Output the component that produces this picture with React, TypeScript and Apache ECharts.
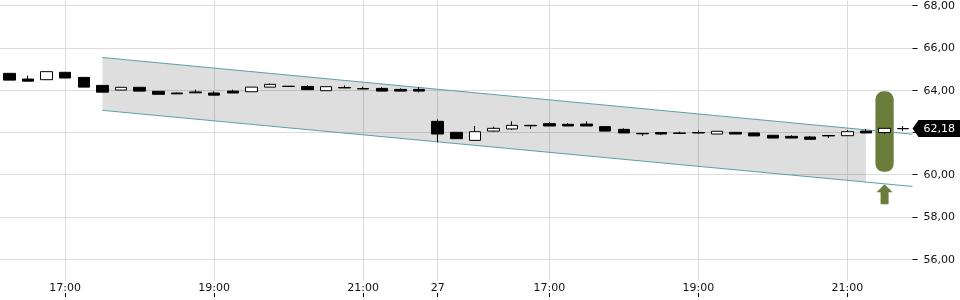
import React, { useEffect, useRef } from "react";
import * as echarts from "echarts";

const categories = [
  "26 16:15", "26 16:30", "26 16:45", "26 17:00", "26 17:15", "26 17:30", "26 17:45", "26 18:00",
  "26 18:15", "26 18:30", "26 18:45", "26 19:00", "26 19:15", "26 19:30", "26 19:45", "26 20:00",
  "26 20:15", "26 20:30", "26 20:45", "26 21:00", "26 21:15", "26 21:30", "26 21:45",
  "27 15:30", "27 15:45", "27 16:00", "27 16:15", "27 16:30", "27 16:45", "27 17:00", "27 17:15",
  "27 17:30", "27 17:45", "27 18:00", "27 18:15", "27 18:30", "27 18:45", "27 19:00", "27 19:15",
  "27 19:30", "27 19:45", "27 20:00", "27 20:15", "27 20:30", "27 20:45", "27 21:00", "27 21:15",
  "27 21:30", "27 21:45",
];

const opens = [
  64.79, 64.52, 64.49, 64.84, 64.6, 64.22, 64.0, 64.13, 63.94, 63.86, 63.91, 63.86, 63.95, 63.92, 64.14, 64.18,
  64.17, 63.97, 64.12, 64.07, 64.08, 64.03, 64.03,
  62.52, 62.0, 61.62, 62.06, 62.16, 62.33, 62.41, 62.38, 62.39, 62.27, 62.14, 61.95, 61.99, 61.97, 61.99, 61.92,
  62.0, 61.97, 61.86, 61.81, 61.78, 61.85, 61.84, 62.06, 61.99, 62.17,
];
const closes = [
  64.47, 64.42, 64.87, 64.57, 64.14, 63.9, 64.13, 63.95, 63.8, 63.82, 63.87, 63.76, 63.86, 64.14, 64.27, 64.17,
  64.02, 64.16, 64.1, 64.05, 63.95, 63.95, 63.95,
  61.92, 61.7, 62.03, 62.19, 62.33, 62.31, 62.3, 62.3, 62.3, 62.06, 61.97, 61.93, 61.92, 61.95, 61.97, 62.05,
  61.92, 61.83, 61.73, 61.73, 61.67, 61.83, 62.03, 61.97, 62.19, 62.18,
];
const lows = [
  64.47, 64.42, 64.49, 64.57, 64.14, 63.9, 64.0, 63.95, 63.8, 63.81, 63.86, 63.76, 63.86, 63.92, 64.14, 64.17,
  64.02, 63.97, 64.1, 64.05, 63.95, 63.95, 63.89,
  61.53, 61.7, 61.62, 62.03, 62.11, 62.16, 62.3, 62.3, 62.3, 62.06, 61.97, 61.83, 61.87, 61.92, 61.94, 61.92,
  61.92, 61.83, 61.73, 61.73, 61.67, 61.73, 61.84, 61.97, 61.92, 62.06,
];
const highs = [
  64.79, 64.68, 64.87, 64.84, 64.6, 64.22, 64.13, 64.13, 63.94, 63.88, 64.02, 63.94, 64.02, 64.14, 64.31, 64.18,
  64.24, 64.16, 64.22, 64.16, 64.13, 64.08, 64.13,
  62.61, 62.0, 62.3, 62.27, 62.52, 62.33, 62.49, 62.44, 62.52, 62.27, 62.19, 61.95, 61.99, 62.03, 62.09, 62.05,
  62.0, 61.97, 61.86, 61.86, 61.83, 61.85, 62.11, 62.16, 62.19, 62.3,
];

// trend channel (x in category-index units)
const channelX = [5, 48.5];
const channelUpper = [65.54, 61.91];
const channelLower = [63.04, 59.44];
const shadeRange = [5, 46];

// forecast marker
const forecastIndex = 47;
const forecastRange = [60.13, 63.94];
const arrowTip = 59.54;

// axis ticks (62,00 is hidden behind the last-price tag)
const yTicks = [56, 58, 60, 62, 64, 66, 68];
const yTickLabels = [56, 58, 60, 64, 66, 68];
const xTickCats = ["26 17:00", "26 19:00", "26 21:00", "27 15:30", "27 17:00", "27 19:00", "27 21:00"];
const xTickLabels = ["17:00", "19:00", "21:00", "27", "17:00", "19:00", "21:00"];

const FONT = "DejaVu Sans";
const GREEN = "#6a7d3a";
const TEAL = "#5d9fa5";
const fmt = (v: number) => v.toFixed(2).replace(".", ",");

export default function App() {
  const ref = useRef<HTMLDivElement>(null);
  useEffect(() => {
    const chart = echarts.init(ref.current!, null, { renderer: "svg" });
    const isTick = (_i: number, v: string) => xTickCats.indexOf(v) >= 0;
    const candleData = categories.map((_, i) => [opens[i], closes[i], lows[i], highs[i]]);
    const lerp = (x: number, ys: number[]) =>
      ys[0] + ((ys[1] - ys[0]) * (x - channelX[0])) / (channelX[1] - channelX[0]);
    const lastPrice = closes[closes.length - 1];

    chart.setOption({
      animation: false,
      grid: { left: 0, right: 47.5, top: 0, bottom: 3, containLabel: false },
      xAxis: [
        {
          type: "category",
          data: categories,
          boundaryGap: true,
          position: "bottom",
          axisLine: { show: false },
          axisTick: {
            show: true,
            inside: true,
            length: 4,
            alignWithLabel: true,
            interval: isTick,
            lineStyle: { color: "#000" },
          },
          axisLabel: {
            inside: true,
            interval: isTick,
            margin: 4,
            formatter: (v: string) => xTickLabels[xTickCats.indexOf(v)],
            color: "#111",
            fontSize: 11,
            fontFamily: FONT,
            backgroundColor: "#fff",
            padding: [1, 2, 0, 2],
          },
          splitLine: {
            show: true,
            interval: isTick,
            alignWithLabel: true,
            lineStyle: { color: "#dcdcdc", width: 1 },
          },
        },
        {
          type: "value",
          min: -0.5,
          max: 48.5,
          show: false,
          axisLine: { show: false },
          axisTick: { show: false },
          axisLabel: { show: false },
          splitLine: { show: false },
        },
      ],
      yAxis: {
        type: "value",
        position: "right",
        min: 54.21,
        max: 68.24,
        axisLine: { show: false, onZero: false },
        axisTick: { show: true, length: 5, customValues: yTicks, lineStyle: { color: "#111" } },
        axisLabel: {
          customValues: yTickLabels,
          margin: 11,
          formatter: (v: number) => fmt(v),
          color: "#111",
          fontSize: 11,
          fontFamily: FONT,
        },
        splitLine: { show: true, lineStyle: { color: "#dcdcdc", width: 1 } },
      },
      series: [
        {
          type: "custom",
          xAxisIndex: 1,
          z: 1,
          silent: true,
          data: [[shadeRange[0], shadeRange[1]]],
          renderItem: (_p: any, api: any) => {
            const x0 = api.value(0);
            const x1 = api.value(1);
            const pts = [
              api.coord([x0, lerp(x0, channelUpper)]),
              api.coord([x1, lerp(x1, channelUpper)]),
              api.coord([x1, lerp(x1, channelLower)]),
              api.coord([x0, lerp(x0, channelLower)]),
            ];
            return { type: "polygon", shape: { points: pts }, style: { fill: "rgba(0,0,0,0.13)" } };
          },
        },
        {
          type: "custom",
          xAxisIndex: 0,
          z: 2,
          silent: true,
          data: [[forecastIndex, forecastRange[0], forecastRange[1]]],
          renderItem: (_p: any, api: any) => {
            const top = api.coord([api.value(0), api.value(2)]);
            const bot = api.coord([api.value(0), api.value(1)]);
            const w = api.size([1, 0])[0] * 0.98;
            return {
              type: "rect",
              shape: { x: top[0] - w / 2, y: top[1], width: w, height: bot[1] - top[1], r: 8 },
              style: { fill: GREEN },
            };
          },
        },
        {
          type: "custom",
          xAxisIndex: 0,
          z: 3,
          silent: true,
          clip: false,
          data: [[forecastIndex, arrowTip]],
          renderItem: (_p: any, api: any) => {
            const p = api.coord([api.value(0), api.value(1)]);
            const x = p[0];
            const y = p[1];
            return {
              type: "polygon",
              shape: {
                points: [
                  [x, y],
                  [x + 8, y + 8],
                  [x + 4, y + 8],
                  [x + 4, y + 20],
                  [x - 4, y + 20],
                  [x - 4, y + 8],
                  [x - 8, y + 8],
                ],
              },
              style: { fill: GREEN },
            };
          },
        },
        {
          type: "line",
          xAxisIndex: 1,
          z: 3,
          symbol: "none",
          silent: true,
          data: channelX.map((x, i) => [x, channelUpper[i]]),
          lineStyle: { color: TEAL, width: 1 },
        },
        {
          type: "line",
          xAxisIndex: 1,
          z: 3,
          symbol: "none",
          silent: true,
          data: channelX.map((x, i) => [x, channelLower[i]]),
          lineStyle: { color: TEAL, width: 1 },
        },
        {
          type: "candlestick",
          xAxisIndex: 0,
          z: 4,
          barWidth: 12,
          data: candleData,
          itemStyle: {
            color: "#fff",
            color0: "#000",
            borderColor: "#000",
            borderColor0: "#000",
            borderWidth: 1,
          },
        },
        {
          type: "custom",
          xAxisIndex: 1,
          z: 5,
          silent: true,
          clip: false,
          data: [[48.5, lastPrice]],
          renderItem: (_p: any, api: any) => {
            const p = api.coord([api.value(0), api.value(1)]);
            const x = p[0];
            const y = p[1];
            return {
              type: "group",
              children: [
                {
                  type: "polygon",
                  shape: {
                    points: [
                      [x, y],
                      [x + 6, y - 8.5],
                      [x + 48, y - 8.5],
                      [x + 48, y + 8.5],
                      [x + 6, y + 8.5],
                    ],
                  },
                  style: { fill: "#000" },
                },
                {
                  type: "text",
                  x: x + 11,
                  y: y,
                  style: {
                    text: fmt(api.value(1)),
                    fill: "#fff",
                    font: `11px "${FONT}"`,
                    align: "left",
                    verticalAlign: "middle",
                  },
                },
              ],
            };
          },
        },
      ],
    });
    return () => chart.dispose();
  }, []);
  return <div ref={ref} style={{ position: "fixed", left: 0, top: 0, width: 960, height: 300 }} />;
}
